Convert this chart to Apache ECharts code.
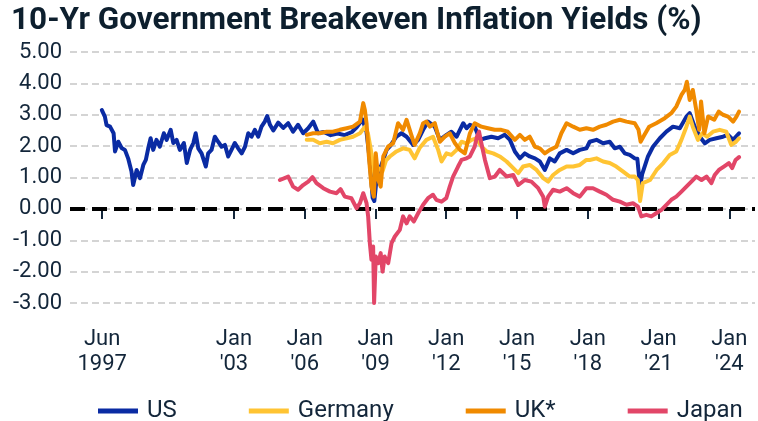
<!DOCTYPE html>
<html>
<head>
<meta charset="utf-8">
<script src="https://cdn.jsdelivr.net/npm/echarts@6/dist/echarts.min.js"></script>
<style>
  html, body { margin: 0; padding: 0; background: #ffffff; }
  #chart { width: 758px; height: 421px; }
</style>
</head>
<body>
<div id="chart"></div>
<script>
// 10-year breakeven inflation, percent: [date, value]
const usSeries = [
  ['1997-05-27', 3.15], ['1997-07-13', 2.94], ['1997-08-08', 2.67], ['1997-10-01', 2.62],
  ['1997-11-25', 2.41], ['1997-12-17', 1.83], ['1998-02-06', 2.14], ['1998-03-29', 1.94],
  ['1998-05-19', 1.88], ['1998-07-08', 1.61], ['1998-08-29', 1.19], ['1998-09-24', 0.76],
  ['1998-11-17', 1.24], ['1999-01-08', 0.98], ['1999-02-28', 1.40], ['1999-04-08', 1.56],
  ['1999-05-15', 1.93], ['1999-06-21', 2.25], ['1999-07-31', 1.88], ['1999-09-20', 2.20],
  ['1999-11-10', 1.98], ['2000-01-12', 2.41], ['2000-02-25', 2.20], ['2000-04-27', 2.52],
  ['2000-06-06', 2.10], ['2000-07-27', 2.20], ['2000-09-16', 1.88], ['2000-11-17', 2.10],
  ['2001-01-01', 1.46], ['2001-02-21', 1.88], ['2001-04-13', 2.10], ['2001-05-19', 2.41],
  ['2001-06-28', 1.93], ['2001-08-18', 1.77], ['2001-10-23', 1.35], ['2001-11-28', 1.77],
  ['2002-01-19', 1.88], ['2002-03-11', 2.30], ['2002-05-01', 2.14], ['2002-06-24', 1.98],
  ['2002-08-14', 2.04], ['2002-10-04', 1.67], ['2002-11-24', 1.88], ['2003-01-15', 2.10],
  ['2003-03-07', 1.93], ['2003-05-01', 1.77], ['2003-06-21', 1.98], ['2003-08-11', 2.41],
  ['2003-10-01', 2.30], ['2003-11-21', 2.52], ['2004-01-12', 2.30], ['2004-03-03', 2.62],
  ['2004-04-23', 2.78], ['2004-05-30', 2.96], ['2004-07-12', 2.68], ['2004-09-02', 2.50],
  ['2004-11-17', 2.75], ['2005-02-03', 2.58], ['2005-04-20', 2.73], ['2005-07-05', 2.46],
  ['2005-09-20', 2.68], ['2005-12-08', 2.41], ['2006-02-24', 2.57], ['2006-05-12', 2.78],
  ['2006-07-27', 2.41], ['2006-10-20', 2.45], ['2007-02-06', 2.35], ['2007-05-27', 2.40],
  ['2007-09-12', 2.35], ['2008-01-01', 2.45], ['2008-03-15', 2.60], ['2008-06-13', 2.85],
  ['2008-08-15', 2.45], ['2008-09-20', 1.80], ['2008-10-20', 1.10], ['2008-11-18', 0.35],
  ['2008-12-13', 0.25], ['2009-01-15', 0.90], ['2009-02-25', 1.20], ['2009-05-01', 1.56],
  ['2009-06-21', 1.88], ['2009-08-11', 1.99], ['2009-11-21', 2.30], ['2010-02-06', 2.41],
  ['2010-04-27', 2.30], ['2010-08-08', 2.04], ['2010-10-23', 2.20], ['2011-01-08', 2.52],
  ['2011-03-25', 2.78], ['2011-07-08', 2.62], ['2011-09-24', 2.20], ['2012-01-05', 2.36],
  ['2012-03-20', 2.46], ['2012-06-10', 2.30], ['2012-09-20', 2.73], ['2012-11-10', 2.57],
  ['2013-01-01', 2.68], ['2013-03-18', 2.62], ['2013-06-03', 2.20], ['2013-08-22', 2.25],
  ['2013-12-01', 2.30], ['2014-03-14', 2.25], ['2014-06-25', 2.36], ['2014-09-13', 2.20],
  ['2014-11-28', 1.83], ['2015-02-14', 1.61], ['2015-05-01', 1.77], ['2015-07-16', 1.67],
  ['2015-10-05', 1.61], ['2015-12-20', 1.51], ['2016-03-06', 1.24], ['2016-05-22', 1.61],
  ['2016-08-07', 1.51], ['2016-10-23', 1.77], ['2017-02-06', 1.88], ['2017-05-19', 1.77],
  ['2017-08-29', 1.88], ['2017-12-10', 1.93], ['2018-01-30', 2.14], ['2018-05-15', 2.20],
  ['2018-08-25', 2.09], ['2018-12-06', 2.14], ['2019-02-21', 1.93], ['2019-05-12', 1.98],
  ['2019-07-27', 1.77], ['2019-10-12', 1.72], ['2019-12-28', 1.61], ['2020-02-06', 1.60],
  ['2020-03-20', 0.70], ['2020-04-20', 1.10], ['2020-07-20', 1.67], ['2020-10-05', 1.98],
  ['2021-01-20', 2.25], ['2021-05-01', 2.46], ['2021-08-11', 2.62], ['2021-11-25', 2.57],
  ['2022-03-07', 2.94], ['2022-04-27', 3.05], ['2022-07-13', 2.62], ['2022-10-01', 2.30],
  ['2022-12-17', 2.09], ['2023-03-03', 2.20], ['2023-06-14', 2.25], ['2023-09-24', 2.30],
  ['2023-12-13', 2.36], ['2024-02-28', 2.20], ['2024-05-30', 2.41]
];

const germanySeries = [
  ['2006-02-01', 2.20], ['2006-05-12', 2.20], ['2006-08-22', 2.09], ['2006-12-06', 2.14],
  ['2007-03-14', 2.09], ['2007-06-28', 2.20], ['2007-10-12', 2.25], ['2008-01-20', 2.30],
  ['2008-05-05', 2.41], ['2008-07-23', 2.62], ['2008-09-06', 2.40], ['2008-10-30', 1.77],
  ['2008-12-24', 0.95], ['2009-02-14', 1.30], ['2009-04-20', 1.20], ['2009-06-14', 1.55],
  ['2009-08-11', 1.67], ['2009-11-21', 1.83], ['2010-03-03', 1.93], ['2010-06-14', 1.88],
  ['2010-08-29', 1.61], ['2010-11-17', 1.95], ['2011-02-28', 2.20], ['2011-06-10', 2.30],
  ['2011-08-29', 1.88], ['2011-10-20', 1.51], ['2012-01-05', 1.77], ['2012-03-20', 1.72],
  ['2012-06-10', 1.88], ['2012-08-25', 2.14], ['2012-11-10', 2.09], ['2013-01-27', 2.20],
  ['2013-04-12', 2.25], ['2013-07-02', 1.98], ['2013-09-17', 1.83], ['2013-12-28', 1.77],
  ['2014-04-08', 1.67], ['2014-07-23', 1.51], ['2014-11-03', 1.30], ['2015-01-20', 1.14],
  ['2015-04-05', 1.35], ['2015-07-16', 1.40], ['2015-10-30', 1.24], ['2016-02-10', 0.98],
  ['2016-04-27', 0.87], ['2016-07-12', 1.08], ['2016-10-23', 1.24], ['2017-02-06', 1.35],
  ['2017-05-19', 1.35], ['2017-08-29', 1.40], ['2017-12-10', 1.56], ['2018-01-30', 1.56],
  ['2018-05-15', 1.61], ['2018-08-25', 1.51], ['2018-12-06', 1.46], ['2019-03-18', 1.35],
  ['2019-07-02', 1.19], ['2019-10-12', 1.03], ['2019-12-28', 1.03], ['2020-02-14', 0.92],
  ['2020-03-20', 0.25], ['2020-05-01', 0.82], ['2020-08-22', 0.92], ['2020-12-01', 1.24],
  ['2021-03-14', 1.46], ['2021-06-21', 1.72], ['2021-10-01', 1.83], ['2021-12-20', 2.20],
  ['2022-03-07', 2.62], ['2022-04-27', 2.94], ['2022-06-14', 2.62], ['2022-09-01', 2.20],
  ['2022-11-06', 2.41], ['2023-01-20', 2.30], ['2023-04-23', 2.46], ['2023-08-04', 2.52],
  ['2023-11-14', 2.46], ['2024-01-30', 2.04], ['2024-04-12', 2.14], ['2024-05-30', 2.25]
];

const ukSeries = [
  ['2006-02-01', 2.36], ['2006-05-12', 2.41], ['2006-08-22', 2.41], ['2006-12-06', 2.46],
  ['2007-03-14', 2.46], ['2007-06-28', 2.52], ['2007-10-12', 2.57], ['2008-01-20', 2.62],
  ['2008-05-05', 2.78], ['2008-06-25', 3.37], ['2008-07-20', 3.15], ['2008-08-15', 2.73],
  ['2008-09-20', 1.67], ['2008-10-30', 0.71], ['2008-12-06', 0.39], ['2009-01-05', 1.77],
  ['2009-02-14', 0.92], ['2009-03-22', 0.71], ['2009-05-01', 1.67], ['2009-07-16', 1.99],
  ['2009-10-01', 2.09], ['2009-12-16', 2.73], ['2010-03-03', 2.52], ['2010-04-27', 2.84],
  ['2010-07-09', 2.36], ['2010-08-29', 2.04], ['2010-11-17', 2.41], ['2011-01-08', 2.73],
  ['2011-02-28', 2.78], ['2011-04-23', 2.62], ['2011-07-08', 2.73], ['2011-09-24', 2.14],
  ['2011-12-10', 2.30], ['2012-02-24', 2.41], ['2012-05-15', 2.09], ['2012-07-31', 1.88],
  ['2012-10-15', 1.77], ['2013-01-01', 2.41], ['2013-03-18', 2.73], ['2013-06-28', 2.62],
  ['2013-10-08', 2.57], ['2014-01-20', 2.52], ['2014-05-01', 2.52], ['2014-08-11', 2.46],
  ['2014-11-28', 2.20], ['2015-02-14', 2.36], ['2015-05-01', 2.20], ['2015-07-16', 2.30],
  ['2015-10-05', 1.98], ['2015-12-20', 1.93], ['2016-03-06', 1.77], ['2016-05-22', 1.88],
  ['2016-09-01', 1.98], ['2016-11-17', 2.41], ['2017-02-06', 2.73], ['2017-05-19', 2.62],
  ['2017-08-29', 2.52], ['2017-12-10', 2.57], ['2018-03-22', 2.52], ['2018-07-05', 2.62],
  ['2018-10-15', 2.68], ['2019-01-27', 2.78], ['2019-05-12', 2.84], ['2019-08-22', 2.78],
  ['2019-12-28', 2.73], ['2020-02-25', 2.52], ['2020-03-28', 2.14], ['2020-05-27', 2.36],
  ['2020-08-07', 2.62], ['2020-11-24', 2.73], ['2021-04-06', 2.89], ['2021-07-16', 3.05],
  ['2021-10-01', 3.26], ['2021-12-20', 3.63], ['2022-02-10', 3.79], ['2022-03-14', 4.05],
  ['2022-04-27', 3.47], ['2022-06-14', 3.79], ['2022-08-07', 3.15], ['2022-09-20', 2.52],
  ['2022-10-20', 3.42], ['2022-12-10', 2.41], ['2023-02-06', 2.94], ['2023-05-12', 2.84],
  ['2023-07-20', 3.10], ['2023-09-24', 3.00], ['2023-12-13', 2.94], ['2024-02-28', 2.78],
  ['2024-04-20', 2.94], ['2024-05-30', 3.10]
];

const japanSeries = [
  ['2004-12-13', 0.92], ['2005-04-20', 1.03], ['2005-07-05', 0.71], ['2005-09-20', 0.61],
  ['2005-12-08', 0.76], ['2006-02-24', 0.87], ['2006-05-01', 1.01], ['2006-07-02', 0.82],
  ['2006-10-15', 0.66], ['2007-01-27', 0.55], ['2007-05-08', 0.50], ['2007-07-09', 0.63],
  ['2007-09-13', 0.39], ['2007-12-24', 0.34], ['2008-03-14', 0.02], ['2008-05-05', 0.18],
  ['2008-06-25', 0.50], ['2008-08-15', 0.18], ['2008-09-09', -0.24], ['2008-10-05', -1.09],
  ['2008-10-30', -1.62], ['2008-11-25', -1.20], ['2008-12-10', -3.00], ['2009-01-05', -1.52],
  ['2009-02-14', -1.73], ['2009-03-22', -1.41], ['2009-04-20', -2.00], ['2009-05-23', -1.52],
  ['2009-07-16', -1.73], ['2009-09-06', -1.09], ['2009-10-27', -0.88], ['2010-01-12', -0.67],
  ['2010-03-03', -0.24], ['2010-04-27', -0.46], ['2010-06-14', -0.24], ['2010-08-18', -0.40],
  ['2010-10-23', -0.14], ['2011-01-08', 0.13], ['2011-03-25', 0.34], ['2011-06-10', 0.45],
  ['2011-07-31', 0.29], ['2011-10-20', 0.23], ['2012-01-01', 0.34], ['2012-02-24', 0.71],
  ['2012-04-16', 1.03], ['2012-07-02', 1.35], ['2012-08-25', 1.56], ['2012-11-10', 1.61],
  ['2013-01-01', 1.67], ['2013-03-18', 1.99], ['2013-04-20', 2.30], ['2013-05-23', 2.46],
  ['2013-06-28', 2.09], ['2013-08-22', 1.56], ['2013-11-06', 0.98], ['2014-01-23', 1.03],
  ['2014-04-08', 1.24], ['2014-07-23', 1.03], ['2014-11-03', 1.08], ['2015-01-20', 0.76],
  ['2015-05-01', 0.92], ['2015-08-11', 0.87], ['2015-11-25', 0.66], ['2016-02-10', 0.39],
  ['2016-03-06', 0.07], ['2016-04-27', 0.39], ['2016-07-12', 0.61], ['2016-10-23', 0.55],
  ['2017-02-06', 0.66], ['2017-05-19', 0.50], ['2017-08-29', 0.39], ['2017-12-10', 0.66],
  ['2018-03-22', 0.66], ['2018-07-05', 0.55], ['2018-10-15', 0.45], ['2019-01-27', 0.29],
  ['2019-05-12', 0.23], ['2019-08-22', 0.13], ['2019-12-01', 0.18], ['2020-02-17', 0.07],
  ['2020-04-08', -0.24], ['2020-06-25', -0.19], ['2020-09-10', -0.24], ['2020-11-24', -0.14],
  ['2021-02-14', -0.03], ['2021-05-01', 0.13], ['2021-07-16', 0.29], ['2021-10-01', 0.39],
  ['2021-12-20', 0.55], ['2022-03-07', 0.71], ['2022-05-23', 0.87], ['2022-08-07', 1.03],
  ['2022-10-27', 0.92], ['2023-01-12', 1.03], ['2023-03-28', 0.82], ['2023-05-19', 1.08],
  ['2023-07-23', 1.24], ['2023-10-08', 1.35], ['2023-12-24', 1.46], ['2024-02-14', 1.30],
  ['2024-04-06', 1.56], ['2024-05-30', 1.65]
];

const seriesNames = ['US', 'Germany', 'UK*', 'Japan'];
const seriesColors = ['#0a2ba3', '#ffc433', '#f08a00', '#e24668'];

// Date axis tick positions and their labels
const tickDates = ['1997-06-01', '2003-01-01', '2006-01-01', '2009-01-01', '2012-01-01',
                   '2015-01-01', '2018-01-01', '2021-01-01', '2024-01-01'];
const tickLabels = ['Jun\n1997', "Jan\n'03", "Jan\n'06", "Jan\n'09", "Jan\n'12",
                    "Jan\n'15", "Jan\n'18", "Jan\n'21", "Jan\n'24"];
const xRange = ['1996-01-20', '2025-02-01'];

const textColor = '#13263a';

// Dates are placed on a numeric axis as UTC milliseconds
const toTime = d => Date.parse(d + 'T00:00:00Z');
const tickTimes = tickDates.map(toTime);

function tickLabelFor(v) {
  let best = 0, bestDiff = Infinity;
  tickTimes.forEach((t, i) => {
    const diff = Math.abs(t - v);
    if (diff < bestDiff) { bestDiff = diff; best = i; }
  });
  return tickLabels[best];
}

const allData = [usSeries, germanySeries, ukSeries, japanSeries];

const chart = echarts.init(document.getElementById('chart'), null, { renderer: 'canvas' });

const series = allData.map((data, i) => ({
  name: seriesNames[i],
  type: 'line',
  data: data.map(([d, v]) => [toTime(d), v]),
  showSymbol: false,
  symbol: 'none',
  lineStyle: { color: seriesColors[i], width: 4, join: 'round', cap: 'round' },
  itemStyle: { color: seriesColors[i] },
  z: 2 + i
}));

// Zero reference line, dashed black, on top of the lines
series.push({
  name: 'zero',
  type: 'line',
  data: [],
  z: 10,
  markLine: {
    silent: true,
    symbol: 'none',
    label: { show: false },
    lineStyle: { color: '#000000', width: 4, type: [15, 7] },
    data: [{ yAxis: 0 }],
    animation: false
  }
});

chart.setOption({
  animation: false,
  backgroundColor: '#ffffff',
  title: {
    text: '10-Yr Government Breakeven Inflation Yields (%)',
    left: 6,
    top: 0,
    textStyle: {
      fontFamily: 'Roboto',
      fontWeight: 'bold',
      fontSize: 31.5,
      color: '#0d1f2e'
    }
  },
  legend: {
    data: seriesNames,
    top: 394,
    left: 93,
    itemWidth: 40,
    itemHeight: 5,
    itemGap: 72,
    icon: 'rect',
    textStyle: { fontFamily: 'Roboto', fontSize: 24, color: textColor, padding: [0, 0, 0, 4] }
  },
  grid: {
    left: 70,
    right: 3,
    top: 52,
    bottom: 118,
    containLabel: false
  },
  xAxis: {
    type: 'value',
    min: toTime(xRange[0]),
    max: toTime(xRange[1]),
    offset: 4,
    axisLine: { show: false },
    splitLine: { show: false },
    axisTick: {
      show: true,
      length: 10,
      customValues: tickTimes,
      lineStyle: { color: '#13263a', width: 2 }
    },
    axisLabel: {
      customValues: tickTimes,
      formatter: tickLabelFor,
      margin: 20,
      fontFamily: 'Roboto',
      fontSize: 22,
      lineHeight: 25,
      color: textColor,
      hideOverlap: false
    }
  },
  yAxis: {
    type: 'value',
    min: -3,
    max: 5,
    interval: 1,
    axisLine: { show: false },
    axisTick: { show: false },
    splitLine: {
      show: true,
      lineStyle: { color: '#d4d4d4', width: 2, type: [7, 4] }
    },
    axisLabel: {
      formatter: v => v.toFixed(2),
      margin: 8,
      fontFamily: 'Roboto',
      fontSize: 22,
      color: textColor
    }
  },
  series: series
});
</script>
</body>
</html>
